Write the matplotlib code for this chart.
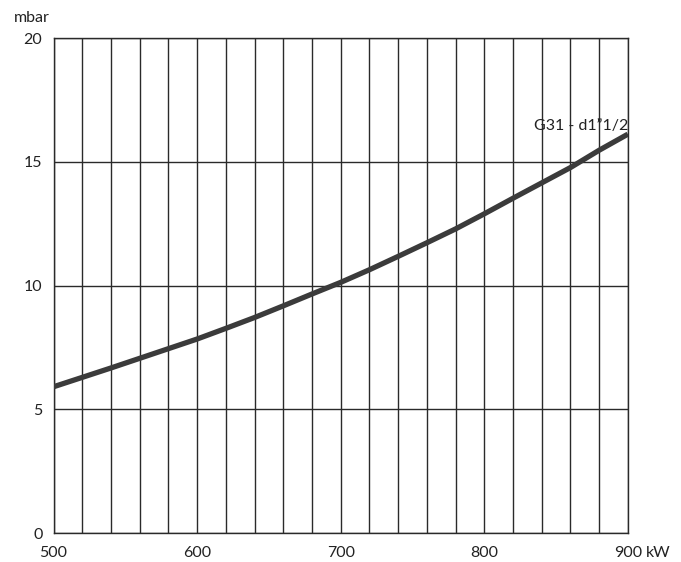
import numpy as np
import matplotlib
matplotlib.use("Agg")
import matplotlib.pyplot as plt

plt.rcParams['font.family'] = ['Lato', 'DejaVu Sans']

# curve (kW -> mbar)
power_kw = [500, 520, 540, 560, 580, 600, 620, 640, 660, 680, 700,
            720, 740, 760, 780, 800, 820, 840, 860, 880, 900]
pressure_mbar = [5.91, 6.29, 6.67, 7.06, 7.45, 7.84, 8.27, 8.71, 9.18, 9.66, 10.13,
                 10.64, 11.18, 11.73, 12.29, 12.9, 13.53, 14.15, 14.77, 15.47, 16.12]
curve_label = "G31 - d1\u201d1/2"

x_ticks = [500, 600, 700, 800, 900]
y_ticks = [0, 5, 10, 15, 20]
x_grid = np.arange(500, 901, 20)

fig = plt.figure(figsize=(6.81, 5.62), dpi=100)
ax = fig.add_axes([0.0786, 0.0516, 0.8434, 0.8805])

for xv in x_grid:
    ax.axvline(xv, color='#2a2a2a', lw=1.0, zorder=1)
for yv in y_ticks:
    ax.axhline(yv, color='#2a2a2a', lw=1.0, zorder=1)

ax.plot(power_kw, pressure_mbar, color='#3b3b3b', lw=3.8,
        solid_capstyle='butt', zorder=3)

ax.set_xlim(500, 900)
ax.set_ylim(0, 20)
ax.set_xticks(x_ticks)
ax.set_yticks(y_ticks)
ax.tick_params(length=0, labelsize=11.5, colors='#222222')
ax.tick_params(axis='y', pad=8)
ax.tick_params(axis='x', pad=9)
for s in ax.spines.values():
    s.set_color('#2a2a2a')
    s.set_linewidth(1.0)

ax.text(-0.037, 1.040, "mbar", transform=ax.transAxes, fontsize=11.5,
        color='#222222', ha='center', va='center')
ax.annotate("kW", xy=(900, 0), xycoords='data', xytext=(13, -9),
            textcoords='offset points', fontsize=11.5, color='#222222',
            ha='left', va='top')
ax.text(900, 16.45, curve_label, fontsize=11.5, color='#222222',
        ha='right', va='center', zorder=4)

fig.savefig("out.png", dpi=100)
